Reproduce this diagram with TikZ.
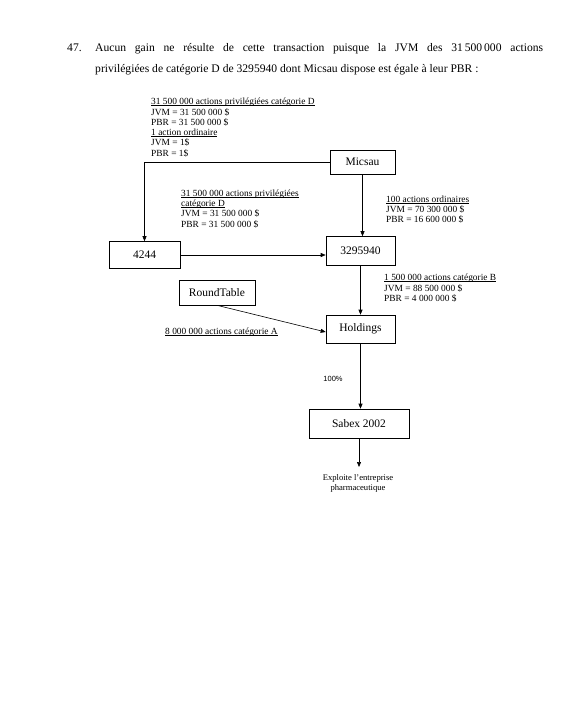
\documentclass[tikz,border=0pt]{standalone}
\usepackage{fontspec}
\setmainfont{Liberation Serif}
\newfontfamily\pctfont{Liberation Sans}
\usetikzlibrary{arrows.meta}
\newcommand\ulx[1]{\setbox0\hbox{#1}\rlap{\rule[-1.1pt]{\wd0}{0.45pt}}\box0}
\begin{document}
\begin{tikzpicture}[x=1pt,y=-1pt,
  entity/.style={draw,line width=0.6pt,inner sep=0pt,font=\fontsize{11.5}{13}\selectfont},
  info/.style={inner sep=0pt,align=left,font=\fontsize{9.4}{10.3}\selectfont},
  heading/.style={anchor=north west,inner sep=0pt,font=\fontsize{11.6}{21}\selectfont},
  conn/.style={line width=0.6pt,-{Triangle[length=5pt,width=4pt]}},
  plain/.style={line width=0.6pt}]
\useasboundingbox[fill=white] (0,0) rectangle (584,728);
% heading
\node[heading,text width=26pt,align=left] (num) at (67,37) {\strut 47.};
\node[heading,text width=448pt,align=justify] (para) at (95,37)
  {\strut Aucun gain ne résulte de cette transaction puisque la JVM des 31\,500\,000 actions\linebreak privilégiées de catégorie D de 3295940 dont Micsau dispose est égale à leur PBR~:};
% entities
\node[entity,minimum width=65pt,minimum height=24pt] (micsau) at (362.5,162) {Micsau};
\node[entity,minimum width=71pt,minimum height=27pt] (e4244) at (144.5,255) {4244};
\node[entity,minimum width=69pt,minimum height=29pt] (e3295940) at (360.5,251) {3295940};
\node[entity,minimum width=76pt,minimum height=25pt] (round) at (217,292.5) {RoundTable};
\node[entity,minimum width=69pt,minimum height=28pt] (hold) at (360.5,329) {Holdings};
\node[entity,minimum width=100pt,minimum height=29pt] (sabex) at (359,423.5) {Sabex 2002};
\coordinate (exend) at (359,467);
% labels
\node[info,anchor=north west] (l1) at (151,98) {\ulx{31 500 000 actions privilégiées catégorie D}\\JVM = 31 500 000 \$\\PBR = 31 500 000 \$\\\ulx{1 action ordinaire}\\JVM = 1\$\\PBR = 1\$};
\node[info,anchor=north west] (l2) at (181,189.5) {\ulx{31 500 000 actions privilégiées}\\\ulx{catégorie D}\\JVM = 31 500 000 \$\\PBR = 31 500 000 \$};
\node[info,anchor=north west] (l3) at (386,195.5) {\ulx{100 actions ordinaires}\\JVM = 70 300 000 \$\\PBR = 16 600 000 \$};
\node[info,anchor=north west,font=\fontsize{9.4}{10.8}\selectfont] (l4) at (384,273.5) {\ulx{1 500 000 actions catégorie B}\\JVM = 88 500 000 \$\\PBR = 4 000 000 \$};
\node[info,anchor=west] (l5) at (165,332) {\ulx{8 000 000 actions catégorie A}};
\node[inner sep=0pt,font=\pctfont\fontsize{7.5}{9}\selectfont] (pct) at (333,379) {100\%};
\node[info,anchor=north,align=center,font=\fontsize{8.6}{10}\selectfont] (expl) at (358,474) {Exploite l’entreprise\\pharmaceutique};
% connectors
\draw[conn] (micsau.west) -| (e4244.north);
\draw[conn] (micsau.south) -- (micsau.south |- e3295940.north);
\draw[conn] (e4244.east) -- (e4244.east -| e3295940.west);
\draw[conn] (e3295940.south) -- (e3295940.south |- hold.north);
\draw[conn] (round.south) -- ([yshift=-3pt]hold.west);
\draw[conn] (hold.south) -- (hold.south |- sabex.north);
\draw[conn] (sabex.south) -- (exend);
\end{tikzpicture}
\end{document}
